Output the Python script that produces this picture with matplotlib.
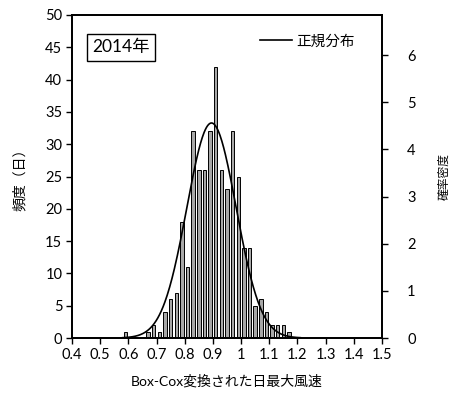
import numpy as np
import matplotlib
matplotlib.use("Agg")
import matplotlib.pyplot as plt
from matplotlib.lines import Line2D

plt.rcParams['font.family'] = ['Lato', 'Noto Sans CJK JP', 'DejaVu Sans']

# Data
bin_centers = [0.59, 0.61, 0.63, 0.65, 0.67, 0.69, 0.71, 0.73, 0.75, 0.77, 0.79,
               0.81, 0.83, 0.85, 0.87, 0.89, 0.91, 0.93, 0.95, 0.97, 0.99,
               1.01, 1.03, 1.05, 1.07, 1.09, 1.11, 1.13, 1.15, 1.17]
counts = [1, 0, 0, 0, 1, 2, 1, 4, 6, 7, 18,
          11, 32, 26, 26, 32, 42, 26, 23, 32, 25,
          14, 14, 5, 6, 4, 2, 2, 2, 1]
bin_width = 0.02
n_days = 365
mu = 0.895
sigma = 0.0875

x_ticks = [0.4, 0.5, 0.6, 0.7, 0.8, 0.9, 1.0, 1.1, 1.2, 1.3, 1.4, 1.5]
x_tick_labels = ['0.4', '0.5', '0.6', '0.7', '0.8', '0.9', '1', '1.1', '1.2', '1.3', '1.4', '1.5']
y_ticks = list(range(0, 51, 5))
y2_ticks = list(range(0, 7))

fig = plt.figure(figsize=(4.61, 3.94), dpi=100)
ax = fig.add_axes([72/461, 1-338/394, 310/461, 323/394])

ax.bar(bin_centers, counts, width=0.012, color='#a8a8a8', edgecolor='black', linewidth=0.7, zorder=2)
ax.set_xlim(0.4, 1.5)
ax.set_ylim(0, 50)
ax.set_xticks(x_ticks)
ax.set_xticklabels(x_tick_labels)
ax.set_yticks(y_ticks)
ax.tick_params(direction='out', length=4, width=1, labelsize=10.5, pad=3)
for s in ax.spines.values():
    s.set_linewidth(1.3)
ax.set_xlabel('Box-Cox変換された日最大風速', fontsize=10, labelpad=9)
ax.set_ylabel('頻度（日）', fontsize=10, labelpad=14)

ax2 = ax.twinx()
ax2.set_ylim(0, 50 / (n_days * bin_width))
ax2.set_yticks(y2_ticks)
ax2.tick_params(direction='out', length=4, width=1, labelsize=10.5, pad=14)
for s in ax2.spines.values():
    s.set_linewidth(1.3)
xs = np.linspace(0.58, 1.21, 300)
pdf = np.exp(-0.5 * ((xs - mu) / sigma) ** 2) / (sigma * np.sqrt(2 * np.pi))
ax2.plot(xs, pdf, color='black', linewidth=1.2, zorder=3)
ax2.set_ylabel('確率密度', fontsize=8.5, labelpad=16)

ax.text(0.065, 0.9, '2014年', transform=ax.transAxes, fontsize=12.5, va='center', ha='left',
        bbox=dict(boxstyle='square,pad=0.32', facecolor='white', edgecolor='black', linewidth=1))

leg_line = Line2D([], [], color='black', linewidth=1.2)
ax.legend([leg_line], ['正規分布'], loc='upper right', bbox_to_anchor=(0.955, 0.98),
          frameon=False, fontsize=10.5, handlelength=2.2, handletextpad=0.3)

fig.savefig('out.png', dpi=100)
